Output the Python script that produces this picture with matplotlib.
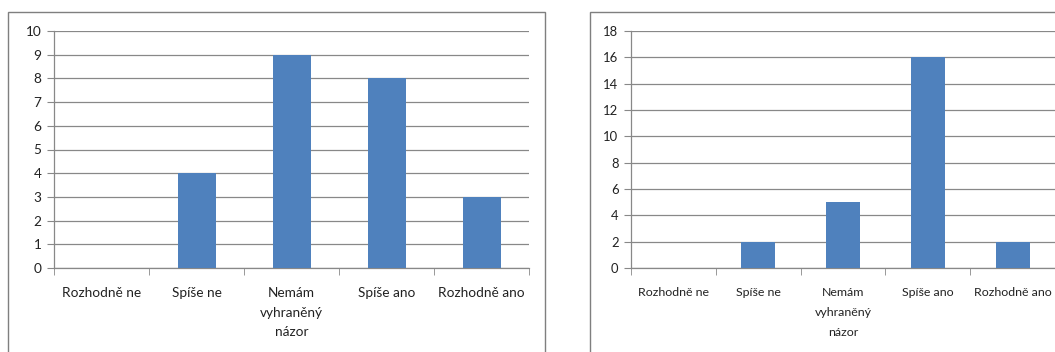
import matplotlib
matplotlib.use("Agg")
import matplotlib.pyplot as plt
from matplotlib.patches import Rectangle

categories = ["Rozhodně ne", "Spíše ne", "Nemám\nvyhraněný\nnázor", "Spíše ano", "Rozhodně ano"]
values_left = [0, 4, 9, 8, 3]
values_right = [0, 2, 5, 16, 2]
yticks_left = list(range(0, 11))
yticks_right = list(range(0, 19, 2))

W, H = 1055, 352
BAR = "#4F81BD"
GRID = "#888888"

plt.rcParams["font.family"] = ["Lato", "DejaVu Sans"]


def px_axes(fig, x0, y0, x1, y1):
    # pixel box (from top-left) -> figure fraction
    return fig.add_axes([x0 / W, (H - y1) / H, (x1 - x0) / W, (y1 - y0) / H])


def draw_chart(ax, values, yticks, fs, lsp, yfs):
    n = len(categories)
    xs = list(range(n))
    ax.bar(xs, values, width=0.4, color=BAR, zorder=3)
    ax.set_xlim(-0.5, n - 0.5)
    ax.set_ylim(yticks[0], yticks[-1])
    ax.set_yticks(yticks)
    ax.yaxis.grid(True, color=GRID, linewidth=0.9, zorder=0)
    ax.set_xticks(xs)
    ax.set_xticklabels(categories, fontsize=fs, linespacing=lsp, color="#222222")
    ax.tick_params(axis="x", length=0, pad=14)
    ax.set_xticks([i - 0.5 for i in range(n + 1)], minor=True)
    ax.tick_params(axis="x", which="minor", length=5, color=GRID, direction="out")
    ax.tick_params(axis="y", length=5, color=GRID, labelsize=yfs, labelcolor="#222222", pad=4)
    for s in ("top", "right"):
        ax.spines[s].set_visible(False)
    for s in ("left", "bottom"):
        ax.spines[s].set_color(GRID)
        ax.spines[s].set_linewidth(0.9)
    ax.set_facecolor("none")


fig = plt.figure(figsize=(W / 100, H / 100), dpi=100)

# chart frames
fig.add_artist(Rectangle((8 / W, -0.01), (545 - 8) / W, (H - 12) / H + 0.01,
                         transform=fig.transFigure, fill=False, edgecolor="#7f7f7f", linewidth=1.0))
fig.add_artist(Rectangle((590 / W, -0.01), (1060 - 590) / W, (H - 12) / H + 0.01,
                         transform=fig.transFigure, fill=False, edgecolor="#7f7f7f", linewidth=1.0))

ax1 = px_axes(fig, 54, 31, 529, 268)
draw_chart(ax1, values_left, yticks_left, 9.8, 1.75, 9.8)

ax2 = px_axes(fig, 631, 31, 1055, 268)
draw_chart(ax2, values_right, yticks_right, 8.9, 1.95, 9.4)

fig.savefig("out.png", dpi=100)
